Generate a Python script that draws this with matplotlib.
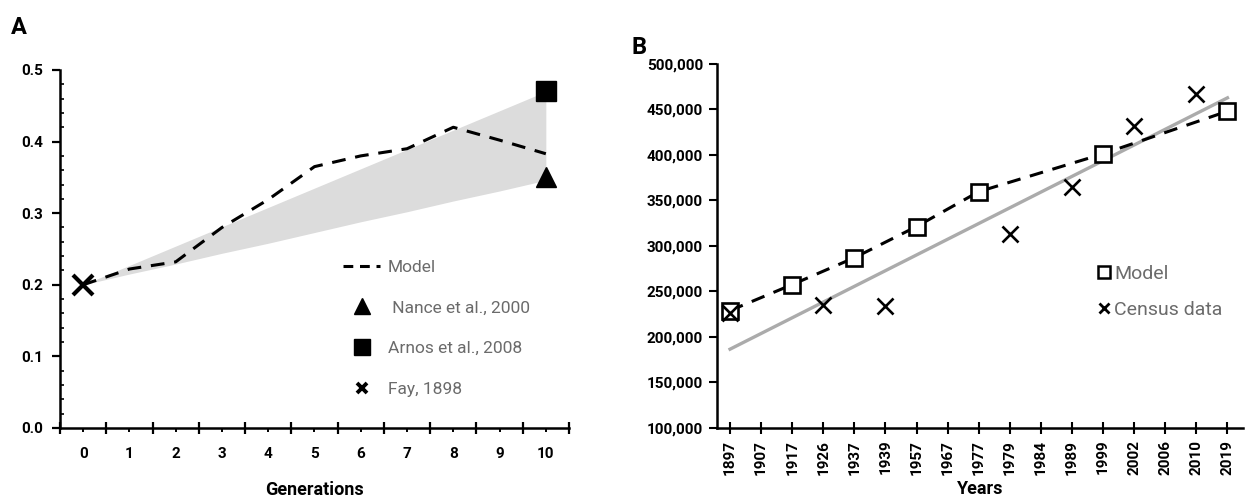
import matplotlib
matplotlib.use("Agg")
import matplotlib.pyplot as plt
from matplotlib.lines import Line2D
from matplotlib.ticker import MultipleLocator, FuncFormatter, FixedLocator
import numpy as np

plt.rcParams['font.family'] = ['Roboto', 'DejaVu Sans']

# ---------------- Panel A data ----------------
generations = [0, 1, 2, 3, 4, 5, 6, 7, 8, 9, 10]
model_a = [0.200, 0.222, 0.232, 0.280, 0.319, 0.365, 0.380, 0.390, 0.420, 0.402, 0.383]
band_upper = [0.200, 0.227, 0.254, 0.281, 0.308, 0.335, 0.362, 0.389, 0.416, 0.443, 0.470]
band_lower = [0.200, 0.215, 0.229, 0.244, 0.258, 0.273, 0.288, 0.302, 0.317, 0.331, 0.346]
nance_gen, nance_val = 10, 0.351
arnos_gen, arnos_val = 10, 0.470
fay_gen, fay_val = 0, 0.200

# ---------------- Panel B data ----------------
year_labels = ['1897', '1907', '1917', '1926', '1937', '1939', '1957', '1967', '1977',
               '1979', '1984', '1989', '1999', '2002', '2006', '2010', '2019']
model_years = ['1897', '1917', '1937', '1957', '1977', '1999', '2019']
model_pop = [229000, 257600, 287100, 321400, 359700, 401300, 448100]
census_years = ['1897', '1926', '1939', '1979', '1989', '2002', '2010']
census_pop = [226000, 234800, 233700, 312900, 364500, 431500, 466500]
trend_years = ['1897', '2019']
trend_pop = [186600, 462800]

fig = plt.figure(figsize=(12.45, 4.98), dpi=100)

legend_gray = '#6b6b6b'

# ================= Panel A =================
axA = fig.add_axes([0.0482, 0.1406, 0.4088, 0.7189])
axA.fill_between(generations, band_lower, band_upper, color='#dcdcdc', linewidth=0, zorder=1)
axA.plot(generations, model_a, color='black', linestyle=(0, (4.5, 3.2)), linewidth=2.2, zorder=3)
axA.plot([nance_gen], [nance_val], marker='^', markersize=15, color='black', linestyle='none', zorder=4)
axA.plot([arnos_gen], [arnos_val], marker='s', markersize=15, color='black', linestyle='none', zorder=4)
axA.plot([fay_gen], [fay_val], marker='x', markersize=14, markeredgewidth=3, color='black',
         linestyle='none', zorder=4)

axA.set_xlim(-0.5, 10.5)
axA.set_ylim(0, 0.5)
axA.spines['top'].set_visible(False)
axA.spines['right'].set_visible(False)
for s in ['left', 'bottom']:
    axA.spines[s].set_linewidth(1.8)
axA.xaxis.set_major_locator(FixedLocator([g - 0.5 for g in generations] + [10.5]))
axA.xaxis.set_minor_locator(FixedLocator(generations))
axA.set_xticklabels([])
axA.tick_params(axis='x', which='major', direction='inout', length=9, width=1.6, labelbottom=False)
axA.tick_params(axis='x', which='minor', direction='out', length=3, width=1.4, pad=11,
                labelsize=11)
axA.xaxis.set_minor_formatter(FuncFormatter(lambda v, p: f"{int(round(v))}"))
for lab in axA.get_xticklabels(minor=True):
    lab.set_fontweight('bold')
axA.yaxis.set_major_locator(MultipleLocator(0.1))
axA.yaxis.set_minor_locator(MultipleLocator(0.02))
axA.yaxis.set_major_formatter(FuncFormatter(lambda v, p: f"{v:.1f}"))
axA.tick_params(axis='y', which='major', direction='out', length=6, width=1.6, labelsize=11, pad=6)
axA.tick_params(axis='y', which='minor', direction='in', length=3, width=1.2)
for lab in axA.get_yticklabels():
    lab.set_fontweight('bold')
axA.set_xlabel('Generations', fontsize=13, fontweight='bold', labelpad=14)

hA = [
    Line2D([], [], color='black', linestyle=(0, (3.2, 2.2)), linewidth=2.2),
    Line2D([], [], color='black', marker='^', markersize=12, linestyle='none'),
    Line2D([], [], color='black', marker='s', markersize=11, linestyle='none'),
    Line2D([], [], color='black', marker='x', markersize=7.5, markeredgewidth=2.8, linestyle='none'),
]
labA = ['Model', ' Nance et al., 2000', 'Arnos et al., 2008', 'Fay, 1898']
legA = axA.legend(hA, labA, loc='upper left', bbox_to_anchor=(0.526, 0.514), frameon=False,
                  fontsize=12.5, labelspacing=1.47, handlelength=2.1, handletextpad=0.45)
for t in legA.get_texts():
    t.set_color(legend_gray)

fig.text(0.009, 0.945, 'A', fontsize=17, fontweight='bold', va='center', ha='left')

# ================= Panel B =================
axB = fig.add_axes([0.5759, 0.1406, 0.4225, 0.7309])
pos = {y: i for i, y in enumerate(year_labels)}
mx = [pos[y] for y in model_years]
cx = [pos[y] for y in census_years]
tx = [pos[y] for y in trend_years]

axB.plot(tx, trend_pop, color='#ababab', linewidth=2.4, zorder=2)
axB.plot(mx, model_pop, color='black', linestyle=(0, (4.5, 3.2)), linewidth=2.2, zorder=3)
axB.plot(mx, model_pop, marker='s', markersize=11.5, markerfacecolor='white',
         markeredgecolor='black', markeredgewidth=1.9, linestyle='none', zorder=4)
axB.plot(cx, census_pop, marker='x', markersize=12, markeredgewidth=1.9, color='black',
         linestyle='none', zorder=5)

axB.set_xlim(-0.42, 16.5)
axB.set_ylim(100000, 500000)
axB.spines['top'].set_visible(False)
axB.spines['right'].set_visible(False)
for s in ['left', 'bottom']:
    axB.spines[s].set_linewidth(1.8)
axB.set_xticks(range(len(year_labels)))
axB.set_xticklabels(year_labels, rotation=90, fontsize=11, fontweight='bold')
axB.tick_params(axis='x', direction='inout', length=9, width=1.5, pad=4)
axB.yaxis.set_major_locator(MultipleLocator(50000))
axB.yaxis.set_major_formatter(FuncFormatter(lambda v, p: f"{int(v):,}"))
axB.tick_params(axis='y', direction='out', length=6, width=1.5, labelsize=11, pad=4)
for lab in axB.get_yticklabels():
    lab.set_fontweight('bold')
axB.set_xlabel('Years', fontsize=13, fontweight='bold', labelpad=4)

hB = [
    Line2D([], [], marker='s', markersize=9, markerfacecolor='white', markeredgecolor='black',
           markeredgewidth=1.8, linestyle='none'),
    Line2D([], [], marker='x', markersize=7.5, markeredgewidth=2.0, color='black', linestyle='none'),
]
legB = axB.legend(hB, ['Model', 'Census data'], loc='upper left', bbox_to_anchor=(0.692, 0.497),
                  frameon=False, fontsize=14, labelspacing=0.95, handlelength=0.6,
                  handletextpad=0.2)
for t in legB.get_texts():
    t.set_color(legend_gray)

fig.text(0.507, 0.905, 'B', fontsize=17, fontweight='bold', va='center', ha='left')

fig.savefig('out.png', dpi=100)
